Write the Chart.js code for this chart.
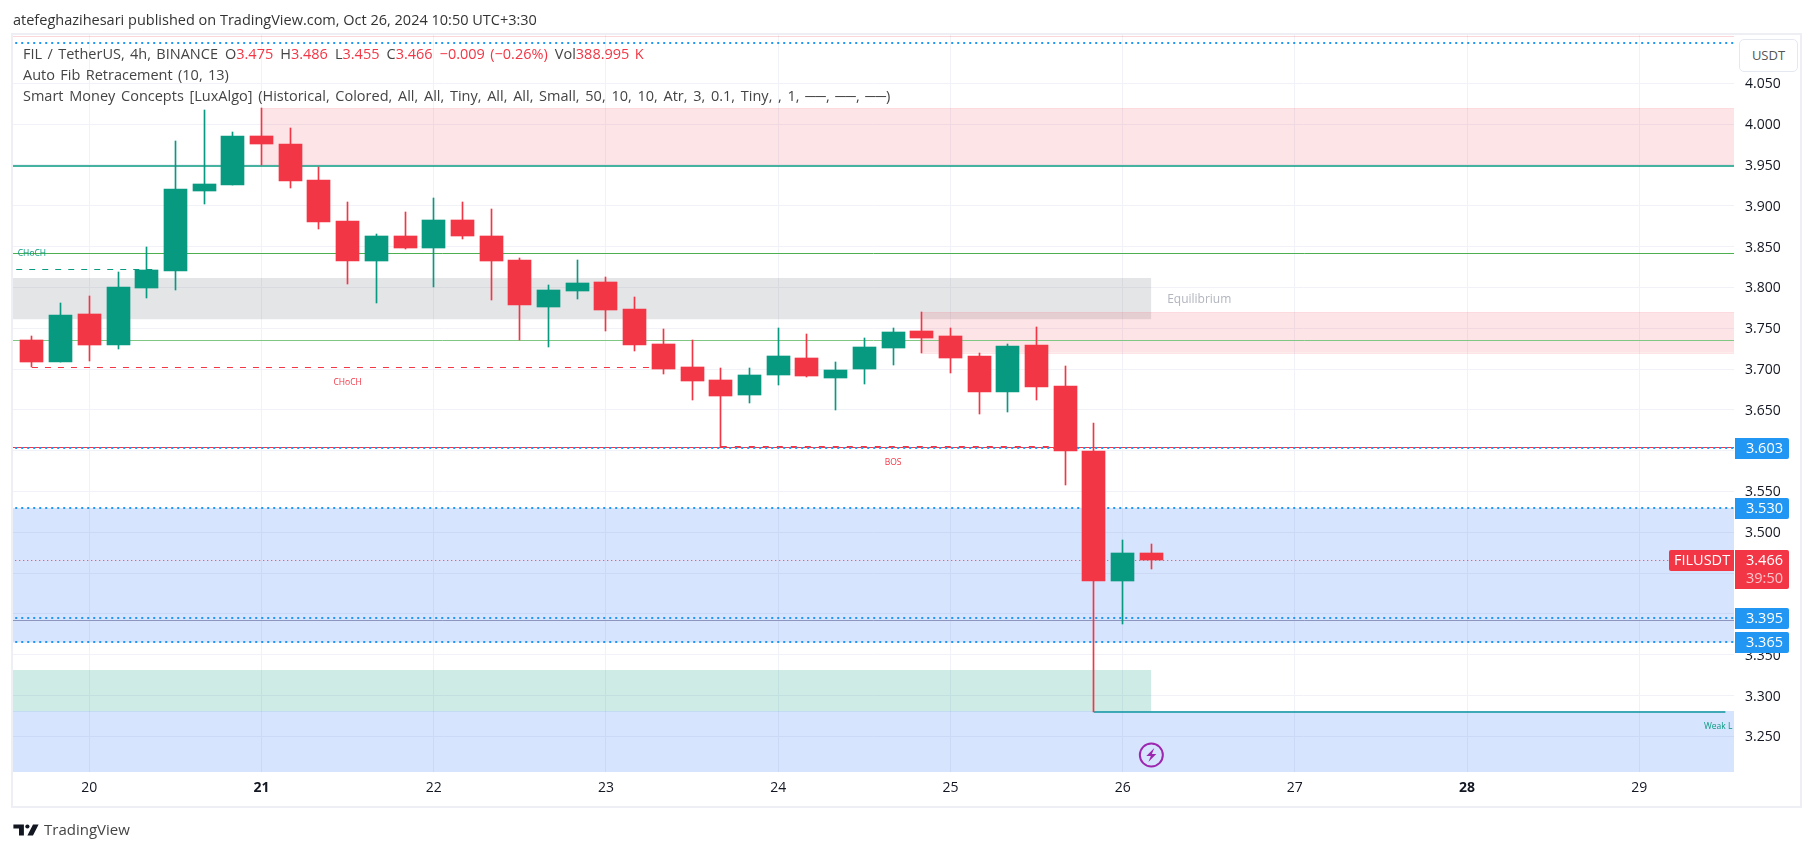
<!DOCTYPE html>
<html lang="en">
  <head>
    <meta charset="UTF-8" />
    <title>FIL / TetherUS</title>
    <style>
      body { margin: 0; background: #fff; font-family: "Open Sans", sans-serif; color: #131722; }
      canvas { position: absolute; left: 0; top: 0; }
      .frame { position: absolute; left: 11px; top: 33px; width: 1787px; height: 771px; border: 2px solid #eeeef5; pointer-events: none; }
      .published { position: absolute; left: 13px; top: 10px; font-size: 14.5px; color: #333; white-space: nowrap; }
      .legend { position: absolute; left: 23px; font-size: 14.5px; word-spacing: 1.6px; color: #444; white-space: nowrap; }
      .legend b { font-weight: normal; color: #f23645; }
      .legend span { margin-left: 7px; }
      .usdt { position: absolute; left: 1739px; top: 39px; width: 57px; height: 31px; border: 1px solid #e6e8f0; border-radius: 5px; background: #fff; font-size: 13px; line-height: 31px; text-align: center; color: #555; }
      .brand { position: absolute; left: 44px; top: 819px; font-size: 15px; color: #444; }
      .logo { position: absolute; left: 13px; top: 823px; }
    </style>
  </head>
  <body>
    <canvas id="chart" width="1814" height="851"></canvas>
    <div class="frame"></div>
    <div class="published">atefeghazihesari published on TradingView.com, Oct 26, 2024 10:50 UTC+3:30</div>
    <div class="legend" style="top: 44px">FIL / TetherUS, 4h, BINANCE<span>O<b>3.475</b></span><span>H<b>3.486</b></span><span>L<b>3.455</b></span><span>C<b>3.466</b></span><span><b>&minus;0.009 (&minus;0.26%)</b></span><span>Vol<b>388.995 K</b></span></div>
    <div class="legend" style="top: 65px">Auto Fib Retracement (10, 13)</div>
    <div class="legend" style="top: 86px; word-spacing: 1.95px">Smart Money Concepts [LuxAlgo] (Historical, Colored, All, All, Tiny, All, All, Small, 50, 10, 10, Atr, 3, 0.1, Tiny, , 1, &#9472;&#9472;, &#9472;&#9472;, &#9472;&#9472;)</div>
    <div class="usdt">USDT</div>
    <svg class="logo" width="26" height="14" viewBox="0 0 36 20">
      <path fill="#131722" d="M0 2h15v16H8V8H0zM28 2h8l-8 16h-8z" />
      <circle cx="20" cy="5" r="3" fill="#131722" />
    </svg>
    <div class="brand">TradingView</div>

    <script src="https://cdn.jsdelivr.net/npm/chart.js"></script>
    <script>
      const opens = [3.736, 3.709, 3.767, 3.729, 3.799, 3.82, 3.918, 3.925, 3.985, 3.976, 3.932, 3.881, 3.832, 3.863, 3.848, 3.883, 3.863, 3.834, 3.776, 3.796, 3.807, 3.774, 3.731, 3.702, 3.687, 3.668, 3.693, 3.714, 3.689, 3.7, 3.726, 3.747, 3.74, 3.716, 3.672, 3.729, 3.679, 3.6, 3.44, 3.475];
      const highs = [3.74, 3.781, 3.789, 3.819, 3.849, 3.979, 4.017, 3.99, 4.02, 3.995, 3.947, 3.905, 3.865, 3.892, 3.91, 3.905, 3.896, 3.836, 3.803, 3.834, 3.813, 3.788, 3.749, 3.736, 3.701, 3.701, 3.75, 3.743, 3.709, 3.738, 3.75, 3.77, 3.75, 3.72, 3.731, 3.751, 3.704, 3.634, 3.491, 3.486];
      const lows = [3.702, 3.709, 3.71, 3.725, 3.787, 3.797, 3.902, 3.925, 3.95, 3.922, 3.872, 3.804, 3.781, 3.847, 3.8, 3.859, 3.785, 3.736, 3.727, 3.786, 3.747, 3.722, 3.694, 3.662, 3.604, 3.658, 3.68, 3.69, 3.65, 3.682, 3.705, 3.72, 3.695, 3.645, 3.647, 3.662, 3.558, 3.28, 3.388, 3.455];
      const closes = [3.709, 3.766, 3.729, 3.8, 3.821, 3.92, 3.927, 3.985, 3.976, 3.93, 3.88, 3.832, 3.863, 3.848, 3.883, 3.863, 3.832, 3.778, 3.797, 3.805, 3.772, 3.729, 3.7, 3.685, 3.667, 3.693, 3.716, 3.691, 3.699, 3.727, 3.745, 3.738, 3.714, 3.672, 3.728, 3.678, 3.6, 3.44, 3.475, 3.466];
      const candleIndex = opens.map((o, i) => i);

      const dayTicks = [2, 8, 14, 20, 26, 32, 38, 44, 50, 56];
      const dayLabels = ["20", "21", "22", "23", "24", "25", "26", "27", "28", "29"];
      const boldDays = ["21", "28"];
      const priceTicks = [3.25, 3.3, 3.35, 3.4, 3.45, 3.5, 3.55, 3.6, 3.65, 3.7, 3.75, 3.8, 3.85, 3.9, 3.95, 4.0, 4.05];

      // zones: first bar, last bar, top, bottom
      const supplyTop = [8, 60, 4.02, 3.95];
      const supplyLow = [31, 60, 3.77, 3.72];
      const equilibrium = [-1, 39, 3.8115, 3.761];
      const demand = [-1, 39, 3.3315, 3.2805];
      const fibUpper = [-1, 60, 3.53, 3.365];
      const fibLower = [-1, 60, 3.2805, 3.2];

      // levels: first bar, last bar, price
      const topEdge = [-1, 60, 4.1085];
      const supplyLowEdge = [31, 60, 3.72];
      const strongHigh = [-1, 60, 3.949];
      const trendUpper = [-1, 60, 3.842];
      const trendLower = [-1, 60, 3.735];
      const chochUp = [-1, 4.3, 3.822];
      const chochDown = [0, 22, 3.702];
      const bos = [24, 36, 3.605];
      const redLevel = [-1, 60, 3.604];
      const greyLevel = [-1, 60, 3.392];
      const weakLow = [37, 59, 3.2795];
      const lastPrice = [-1, 57.7, 3.466];
      const dottedPrices = [4.1, 3.603, 3.53, 3.395, 3.365];

      const badgePrices = [3.603, 3.53, 3.395, 3.365];
      const currentPrice = 3.466;

      const UP = "#089981";
      const DOWN = "#f23645";
      const BLUE = "#2196f3";
      const PALE_RED = "rgba(242, 54, 69, 0.13)";
      const BLUE_ZONE = "rgba(41, 110, 245, 0.19)";

      function zone(z, color, edge) {
        return {
          type: "line",
          order: 20,
          data: [{ x: z[0], y: z[2] }, { x: z[1], y: z[2] }],
          fill: { value: z[3] },
          backgroundColor: color,
          borderColor: edge || "transparent",
          borderWidth: edge ? 1 : 0,
          pointRadius: 0,
        };
      }

      function level(l, color, width, dash, order) {
        return {
          type: "line",
          order: order || 10,
          data: [{ x: l[0], y: l[2] }, { x: l[1], y: l[2] }],
          borderColor: color,
          borderWidth: width,
          borderDash: dash || [],
          pointRadius: 0,
          fill: false,
        };
      }

      // small texts sit on the chart at a bar and a price
      const chartTexts = [
        { text: "CHoCH", bar: 0, price: 3.8415, color: UP },
        { text: "CHoCH", bar: 11, price: 3.683, color: DOWN },
        { text: "BOS", bar: 30, price: 3.585, color: DOWN },
        { text: "Weak L", bar: 58.75, price: 3.262, color: UP },
      ];

      const overlays = {
        id: "overlays",
        // TradingView draws on whole pixels, snap the bars and levels the same way
        beforeDatasetsDraw(chart) {
          chart.getSortedVisibleDatasetMetas().forEach((meta) => {
            meta.data.forEach((el) => {
              if (meta.type === "bar") {
                el.x = Math.floor(el.x) + 0.5;
                el.y = Math.round(el.y);
                el.base = Math.round(el.base);
              } else {
                el.y = Math.round(el.y) + (meta.dataset.options.borderWidth === 1 ? 0.5 : 0);
              }
            });
          });
        },
        afterDatasetsDraw(chart) {
          const { ctx, scales, chartArea } = chart;
          const x = scales.x;
          const y = scales.y;
          ctx.save();
          ctx.beginPath();
          ctx.rect(chartArea.left, chartArea.top, chartArea.width, chartArea.height);
          ctx.clip();
          ctx.textAlign = "center";
          ctx.textBaseline = "middle";
          ctx.font = '8.5px "Open Sans"';
          chartTexts.forEach((t) => {
            ctx.fillStyle = t.color;
            ctx.fillText(t.text, x.getPixelForValue(t.bar), y.getPixelForValue(t.price));
          });
          ctx.textAlign = "left";
          ctx.font = '12px "Open Sans"';
          ctx.fillStyle = "#b2b5be";
          ctx.fillText("Equilibrium", x.getPixelForValue(39.55), y.getPixelForValue(3.785));
          ctx.restore();
        },
        afterDraw(chart) {
          const { ctx, scales, chartArea } = chart;
          const y = scales.y;
          ctx.save();
          ctx.textBaseline = "middle";
          badgePrices.forEach((p) => {
            const py = Math.round(y.getPixelForValue(p));
            ctx.fillStyle = BLUE;
            ctx.beginPath();
            ctx.roundRect(chartArea.right + 1, py - 10, 54, 21, [0, 2, 2, 0]);
            ctx.fill();
            ctx.fillStyle = "#fff";
            ctx.textAlign = "left";
            ctx.font = '14.5px "Open Sans"';
            ctx.fillText(p.toFixed(3), chartArea.right + 12, py + 1);
          });
          const cy = Math.round(y.getPixelForValue(currentPrice));
          ctx.fillStyle = DOWN;
          ctx.beginPath();
          ctx.roundRect(chartArea.right + 1, cy - 10, 54, 39, [0, 2, 2, 0]);
          ctx.fill();
          ctx.beginPath();
          ctx.roundRect(chartArea.right - 65, cy - 10, 65, 21, [2, 0, 0, 2]);
          ctx.fill();
          ctx.fillStyle = "#fff";
          ctx.font = '14.5px "Open Sans"';
          ctx.textAlign = "left";
          ctx.fillText(currentPrice.toFixed(3), chartArea.right + 12, cy + 1);
          ctx.fillText("FILUSDT", chartArea.right - 60, cy + 1);
          ctx.fillStyle = "#fcc5ca";
          ctx.fillText("39:50", chartArea.right + 12, cy + 19);
          // bolt marker under the last candles
          const bx = scales.x.getPixelForValue(39);
          const by = y.getPixelForValue(3.2271);
          ctx.beginPath();
          ctx.arc(bx, by, 11.5, 0, Math.PI * 2);
          ctx.strokeStyle = "#9c27b0";
          ctx.lineWidth = 2;
          ctx.stroke();
          ctx.fillStyle = "#9c27b0";
          ctx.beginPath();
          [[3, -7], [-5, 1], [-0.5, 1], [-3, 7], [5, -1], [0.5, -1]].forEach((p, i) => {
            if (i === 0) ctx.moveTo(bx + p[0], by + p[1]);
            else ctx.lineTo(bx + p[0], by + p[1]);
          });
          ctx.closePath();
          ctx.fill();
          ctx.restore();
        },
      };

      const chart = new Chart(document.getElementById("chart").getContext("2d"), {
        data: {
          datasets: [
            zone(supplyTop, PALE_RED, PALE_RED),
            zone(supplyLow, PALE_RED, PALE_RED),
            zone(equilibrium, "rgba(120, 123, 134, 0.2)"),
            zone(fibUpper, BLUE_ZONE),
            zone(fibLower, BLUE_ZONE),
            zone(demand, "rgba(8, 153, 129, 0.2)"),
            level(topEdge, "rgba(242, 54, 69, 0.2)", 1),
            level(supplyLowEdge, PALE_RED, 1),
            level(strongHigh, UP, 1.5),
            level(trendUpper, "#4caf50", 1),
            level(trendLower, "#81c784", 1),
            level(chochUp, UP, 1, [6, 7]),
            level(chochDown, DOWN, 1, [6, 7]),
            level(bos, DOWN, 2, [6, 8]),
            level(redLevel, DOWN, 1),
            level(greyLevel, "#8d94bd", 1),
            level(weakLow, "#0e96a0", 1.5, [], 3),
            level(lastPrice, DOWN, 1, [1, 3]),
            ...dottedPrices.map((p) => level([-1, 60, p], BLUE, 2, [2, 4], 9)),
            {
              type: "bar",
              order: 2,
              data: candleIndex.map((i) => ({ x: i, y: [lows[i], highs[i]] })),
              backgroundColor: (c) => (closes[c.dataIndex] >= opens[c.dataIndex] ? UP : DOWN),
              barThickness: 1,
              grouped: false,
            },
            {
              type: "bar",
              order: 1,
              data: candleIndex.map((i) => ({ x: i, y: [opens[i], closes[i]] })),
              backgroundColor: (c) => (closes[c.dataIndex] >= opens[c.dataIndex] ? UP : DOWN),
              barThickness: 23,
              grouped: false,
            },
          ],
        },
        options: {
          responsive: false,
          animation: false,
          layout: { padding: { left: 13, top: 35, right: 0, bottom: 0 } },
          plugins: { legend: { display: false }, tooltip: { enabled: false } },
          scales: {
            x: {
              type: "linear",
              min: -0.66,
              max: 59.3,
              offset: false,
              border: { display: false },
              grid: { color: "#f0f2f7", drawTicks: false, offset: false },
              afterBuildTicks: (axis) => {
                axis.ticks = dayTicks.map((v) => ({ value: v }));
              },
              afterFit: (axis) => {
                axis.height = 79;
              },
              ticks: {
                autoSkip: false,
                maxRotation: 0,
                padding: 8,
                color: "#131722",
                font: (c) => ({
                  family: "Open Sans",
                  size: 14,
                  weight: boldDays.includes(dayLabels[c.index]) ? "bold" : "normal",
                }),
                callback: (v) => dayLabels[dayTicks.indexOf(v)],
              },
            },
            y: {
              type: "linear",
              position: "right",
              min: 3.2063,
              max: 4.1092,
              border: { display: false },
              grid: { color: "#f0f2f7", drawTicks: false },
              afterBuildTicks: (axis) => {
                axis.ticks = priceTicks.map((v) => ({ value: v }));
              },
              afterFit: (axis) => {
                axis.width = 80;
              },
              ticks: {
                autoSkip: false,
                padding: 11,
                labelOffset: 1,
                color: "#131722",
                font: { family: "Open Sans", size: 14 },
                callback: (v) => v.toFixed(3),
              },
            },
          },
        },
        plugins: [overlays],
      });
    </script>
  </body>
</html>
